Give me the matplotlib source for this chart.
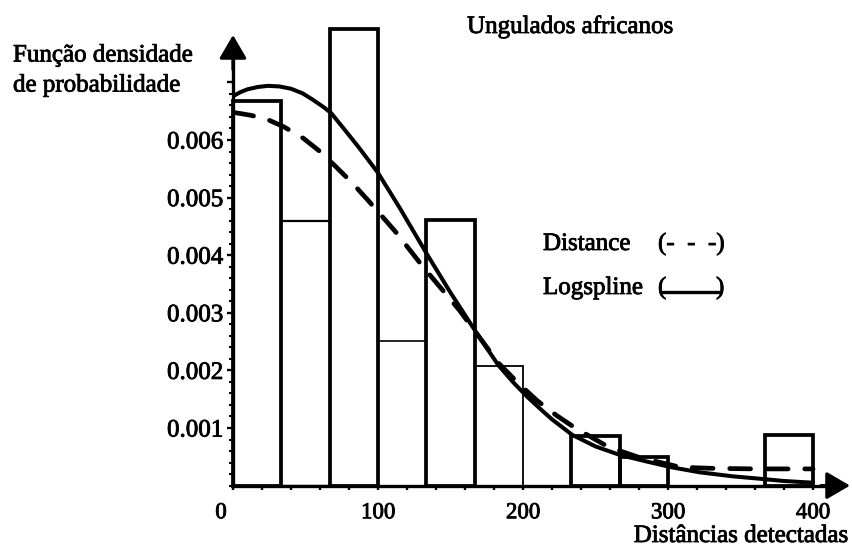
import matplotlib
matplotlib.use("Agg")
import matplotlib.pyplot as plt
import matplotlib.patheffects as pe
from matplotlib.ticker import FixedLocator, FixedFormatter
from matplotlib.transforms import ScaledTranslation
from matplotlib.lines import Line2D

plt.rcParams['font.family'] = ['Liberation Serif', 'DejaVu Serif']
plt.rcParams['lines.scale_dashes'] = False

# ---------------- data ----------------
title = "Ungulados africanos"
ylabel_lines = ["Função densidade", "de probabilidade"]
xlabel = "Distâncias detectadas"
legend_distance = "Distance"
legend_logspline = "Logspline"

bin_edges = [0, 33.3, 66.7, 100, 133.3, 166.7, 200, 233.3, 266.7, 300, 333.3, 366.7, 400]
bar_heights = [0.00668, 0.00459, 0.00793, 0.00251, 0.00461, 0.00208,
               0.0, 0.00086, 0.00050, 0.0, 0.0, 0.00088]

logspline_x = [0, 5, 10, 17, 24, 32, 40, 48, 55, 62, 67.6, 76, 86.5, 100, 115, 133,
               150, 168, 183, 193, 203, 212, 220, 234, 250, 267, 285, 302, 322, 345,
               363, 380, 400]
logspline_y = [0.00676, 0.00683, 0.00688, 0.00692, 0.00694, 0.00693, 0.00689, 0.00681,
               0.00670, 0.00658, 0.00647, 0.00621, 0.00588, 0.00543, 0.00482, 0.00405,
               0.00335, 0.00265, 0.00209, 0.00180, 0.00154, 0.00133, 0.00115, 0.00088,
               0.00068, 0.00053, 0.00042, 0.00032, 0.00023, 0.00016, 0.00012, 0.00008,
               0.00005]

distance_x = [0, 5, 12, 22.5, 35, 48.5, 60, 70.8, 82, 92.9, 112, 131, 156, 183, 197,
              210, 223, 236, 259, 280, 305, 318, 330, 360, 400]
distance_y = [0.00648, 0.00646, 0.00643, 0.00637, 0.00623, 0.00603, 0.00580, 0.00554,
              0.00526, 0.00496, 0.00441, 0.00380, 0.00305, 0.00213, 0.00177, 0.00147,
              0.00122, 0.00100, 0.00067, 0.00049, 0.00034, 0.00031, 0.00030, 0.00029,
              0.00029]

xticks = [0, 100, 200, 300, 400]
xtick_labels = ["0", "100", "200", "300", "400"]
xminor = list(range(0, 401, 20))
yticks = [0.001, 0.002, 0.003, 0.004, 0.005, 0.006, 0.007]
ytick_labels = ["0.001", "0.002", "0.003", "0.004", "0.005", "0.006", ""]
yminor = [i * 0.0002 for i in range(0, 36)]

# ---------------- figure ----------------
W, H = 853, 549
fig = plt.figure(figsize=(W / 100, H / 100), dpi=100)
thick = [pe.withStroke(linewidth=0.6, foreground='black')]


def fx(px):
    return px / W


def fy(py):
    return 1 - py / H


x0, y0 = 233, 485.6        # pixel of data origin
sx, sy = 1.45, 57.6 / 0.001  # pixels per unit
top_px, right_px = 25, 851
ax = fig.add_axes([fx(x0), fy(y0), (right_px - x0) / W, (y0 - top_px) / H])
xmax = (right_px - x0) / sx
ymax = (y0 - top_px) / sy
ax.set_xlim(0, xmax)
ax.set_ylim(0, ymax)
ax.patch.set_visible(False)

# histogram bars (outline only)
lefts = bin_edges[:-1]
widths = [b - a for a, b in zip(bin_edges[:-1], bin_edges[1:])]
lws = [2.7, 1.6, 2.7, 1.2, 2.7, 1.3, 0, 2.7, 2.7, 0, 0, 2.7]
ax.bar(lefts, bar_heights, width=widths, align='edge', fill=False,
       edgecolor='black', linewidth=lws, zorder=2, clip_on=False)

# curves
ax.plot(logspline_x, logspline_y, color='black', lw=2.9, zorder=3,
        solid_capstyle='round', solid_joinstyle='round')
ax.plot(distance_x, distance_y, color='black', lw=3.4, zorder=3,
        linestyle=(0, (15, 12)), dash_capstyle='round', dash_joinstyle='round')

# axes lines with arrows
for s in ['top', 'right']:
    ax.spines[s].set_visible(False)
ax.spines['left'].set_linewidth(2.4)
ax.spines['bottom'].set_linewidth(2.4)
ytip = (y0 - 35) / sy
xtip = (850 - x0) / sx
ax.spines['left'].set_bounds(0, ytip - 0.0003)
ax.spines['bottom'].set_bounds(0, xtip - 10)
ax.annotate('', xy=(0, ytip), xytext=(0, ytip - 0.0006),
            arrowprops=dict(arrowstyle='-|>,head_length=0.72,head_width=0.42',
                            mutation_scale=20, lw=2.3, color='black',
                            shrinkA=0, shrinkB=0), annotation_clip=False, zorder=4)
ax.annotate('', xy=(xtip, 0), xytext=(xtip - 20, 0),
            arrowprops=dict(arrowstyle='-|>,head_length=0.72,head_width=0.42',
                            mutation_scale=20, lw=2.3, color='black',
                            shrinkA=0, shrinkB=0), annotation_clip=False, zorder=4)

# ticks
ax.yaxis.set_major_locator(FixedLocator(yticks))
ax.yaxis.set_major_formatter(FixedFormatter(ytick_labels))
ax.yaxis.set_minor_locator(FixedLocator(yminor))
ax.xaxis.set_major_locator(FixedLocator(xticks))
ax.xaxis.set_major_formatter(FixedFormatter(xtick_labels))
ax.xaxis.set_minor_locator(FixedLocator(xminor))
ax.tick_params(axis='y', which='major', direction='out', length=4.5, width=1.7,
               pad=2.5, labelsize=18)
ax.tick_params(axis='y', which='minor', direction='out', length=2.8, width=1.5)
ax.tick_params(axis='x', which='both', direction='out', length=3, width=1.7)
ax.tick_params(axis='x', which='major', pad=9, labelsize=16.5)

fig.canvas.draw()
for lab in ax.get_xticklabels():
    lab.set_path_effects(thick)
    if lab.get_text() == '0':
        lab.set_transform(lab.get_transform() +
                          ScaledTranslation(-12 / 100, 0, fig.dpi_scale_trans))
for lab in ax.get_yticklabels():
    lab.set_path_effects(thick)

# texts
kw = dict(fontsize=18, path_effects=thick)
fig.text(fx(570), fy(33), title, ha='center', va='baseline', **kw)
fig.text(fx(13), fy(61.5), ylabel_lines[0], ha='left', va='baseline', **kw)
fig.text(fx(13), fy(91.5), ylabel_lines[1], ha='left', va='baseline', **kw)
fig.text(fx(848), fy(542), xlabel, ha='right', va='baseline', **kw)

fig.text(fx(543), fy(250), legend_distance, ha='left', va='baseline', **kw)
fig.text(fx(658), fy(250), "(-  -  -)", ha='left', va='baseline', **kw)
fig.text(fx(543), fy(294), legend_logspline, ha='left', va='baseline', **kw)
fig.text(fx(658), fy(294), "(", ha='left', va='baseline', **kw)
fig.text(fx(716), fy(294), ")", ha='left', va='baseline', **kw)
fig.add_artist(Line2D([fx(662), fx(720)], [fy(292), fy(292)], color='black',
                      lw=2.4, transform=fig.transFigure))

fig.savefig("out.png", dpi=100)
